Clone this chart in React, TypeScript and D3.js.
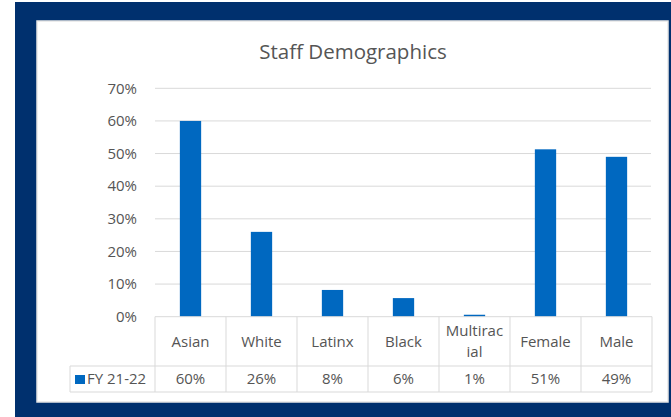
// Staff Demographics — Excel-style column chart with a data table under the axis.

import * as d3 from "d3";

const categories = ["Asian", "White", "Latinx", "Black", "Multiracial", "Female", "Male"];
const headerLines = [["Asian"], ["White"], ["Latinx"], ["Black"], ["Multirac", "ial"], ["Female"], ["Male"]];
const values = [0.60, 0.26, 0.082, 0.057, 0.006, 0.513, 0.49];
const seriesName = "FY 21-22";
const yTicks = [0, 0.1, 0.2, 0.3, 0.4, 0.5, 0.6, 0.7];

const W = 671, H = 417;
const NAVY = "#00306e";
const BLUE = "#0068c0";
const GRID = "#d9d9d9";
const TEXT = "#555555";
const FONT = "'Open Sans', 'Liberation Sans', sans-serif";

export default function App() {
  const x = d3.scaleBand<string>().domain(categories).range([155, 652]);
  const y = d3.scaleLinear().domain([0, 0.7]).range([316.7, 88.3]);
  const pct = d3.format(".0%");
  const bw = x.bandwidth() * 0.3;
  const rowTop = y(0), rowMid = 366, rowBot = 392, labelLeft = 70;

  return (
    <svg width={W} height={H} style={{ position: "absolute", left: 0, top: 0, fontFamily: FONT }}>
      <rect x={0} y={0} width={W} height={H} fill="#fff" />
      <rect x={15} y={2} width={W - 15} height={H - 2} fill={NAVY} />
      <rect x={37} y={21} width={631} height={381} fill="#fff" stroke="#e6e6e6" strokeWidth={1.5} />

      <text x={353} y={59} textAnchor="middle" fontSize={20.5} fill={TEXT}>Staff Demographics</text>

      {yTicks.map((t) => (
        <g key={t}>
          {t > 0 && <line x1={155} x2={651} y1={y(t)} y2={y(t)} stroke={GRID} strokeWidth={1} />}
          <text x={137} y={y(t)} dy="0.35em" textAnchor="end" fontSize={15} fill={TEXT}>{pct(t)}</text>
        </g>
      ))}

      {categories.map((c, i) => (
        <rect key={c} x={x(c)! + (x.bandwidth() - bw) / 2} y={y(values[i])}
              width={bw} height={y(0) - y(values[i])} fill={BLUE} />
      ))}

      {/* data table */}
      <g stroke={GRID} strokeWidth={1} fill="none">
        <line x1={155} x2={652} y1={rowTop} y2={rowTop} />
        <line x1={labelLeft} x2={652} y1={rowMid} y2={rowMid} />
        <line x1={labelLeft} x2={652} y1={rowBot} y2={rowBot} />
        <line x1={labelLeft} x2={labelLeft} y1={rowMid} y2={rowBot} />
        {categories.map((c) => (
          <line key={c} x1={x(c)!} x2={x(c)!} y1={rowTop} y2={rowBot} />
        ))}
        <line x1={652} x2={652} y1={rowTop} y2={rowBot} />
      </g>

      {categories.map((c, i) => {
        const cx = x(c)! + x.bandwidth() / 2;
        const lines = headerLines[i];
        const mid = (rowTop + rowMid) / 2;
        return (
          <g key={c} fontSize={15} fill={TEXT} textAnchor="middle">
            {lines.map((l, k) => (
              <text key={k} x={cx} y={mid + (k - (lines.length - 1) / 2) * 21} dy="0.35em">{l}</text>
            ))}
            <text x={cx} y={(rowMid + rowBot) / 2} dy="0.35em">{pct(values[i])}</text>
          </g>
        );
      })}

      <rect x={75} y={375} width={10} height={9} fill={BLUE} />
      <text x={87} y={(rowMid + rowBot) / 2} dy="0.35em" fontSize={15} fill={TEXT}>{seriesName}</text>
    </svg>
  );
}
